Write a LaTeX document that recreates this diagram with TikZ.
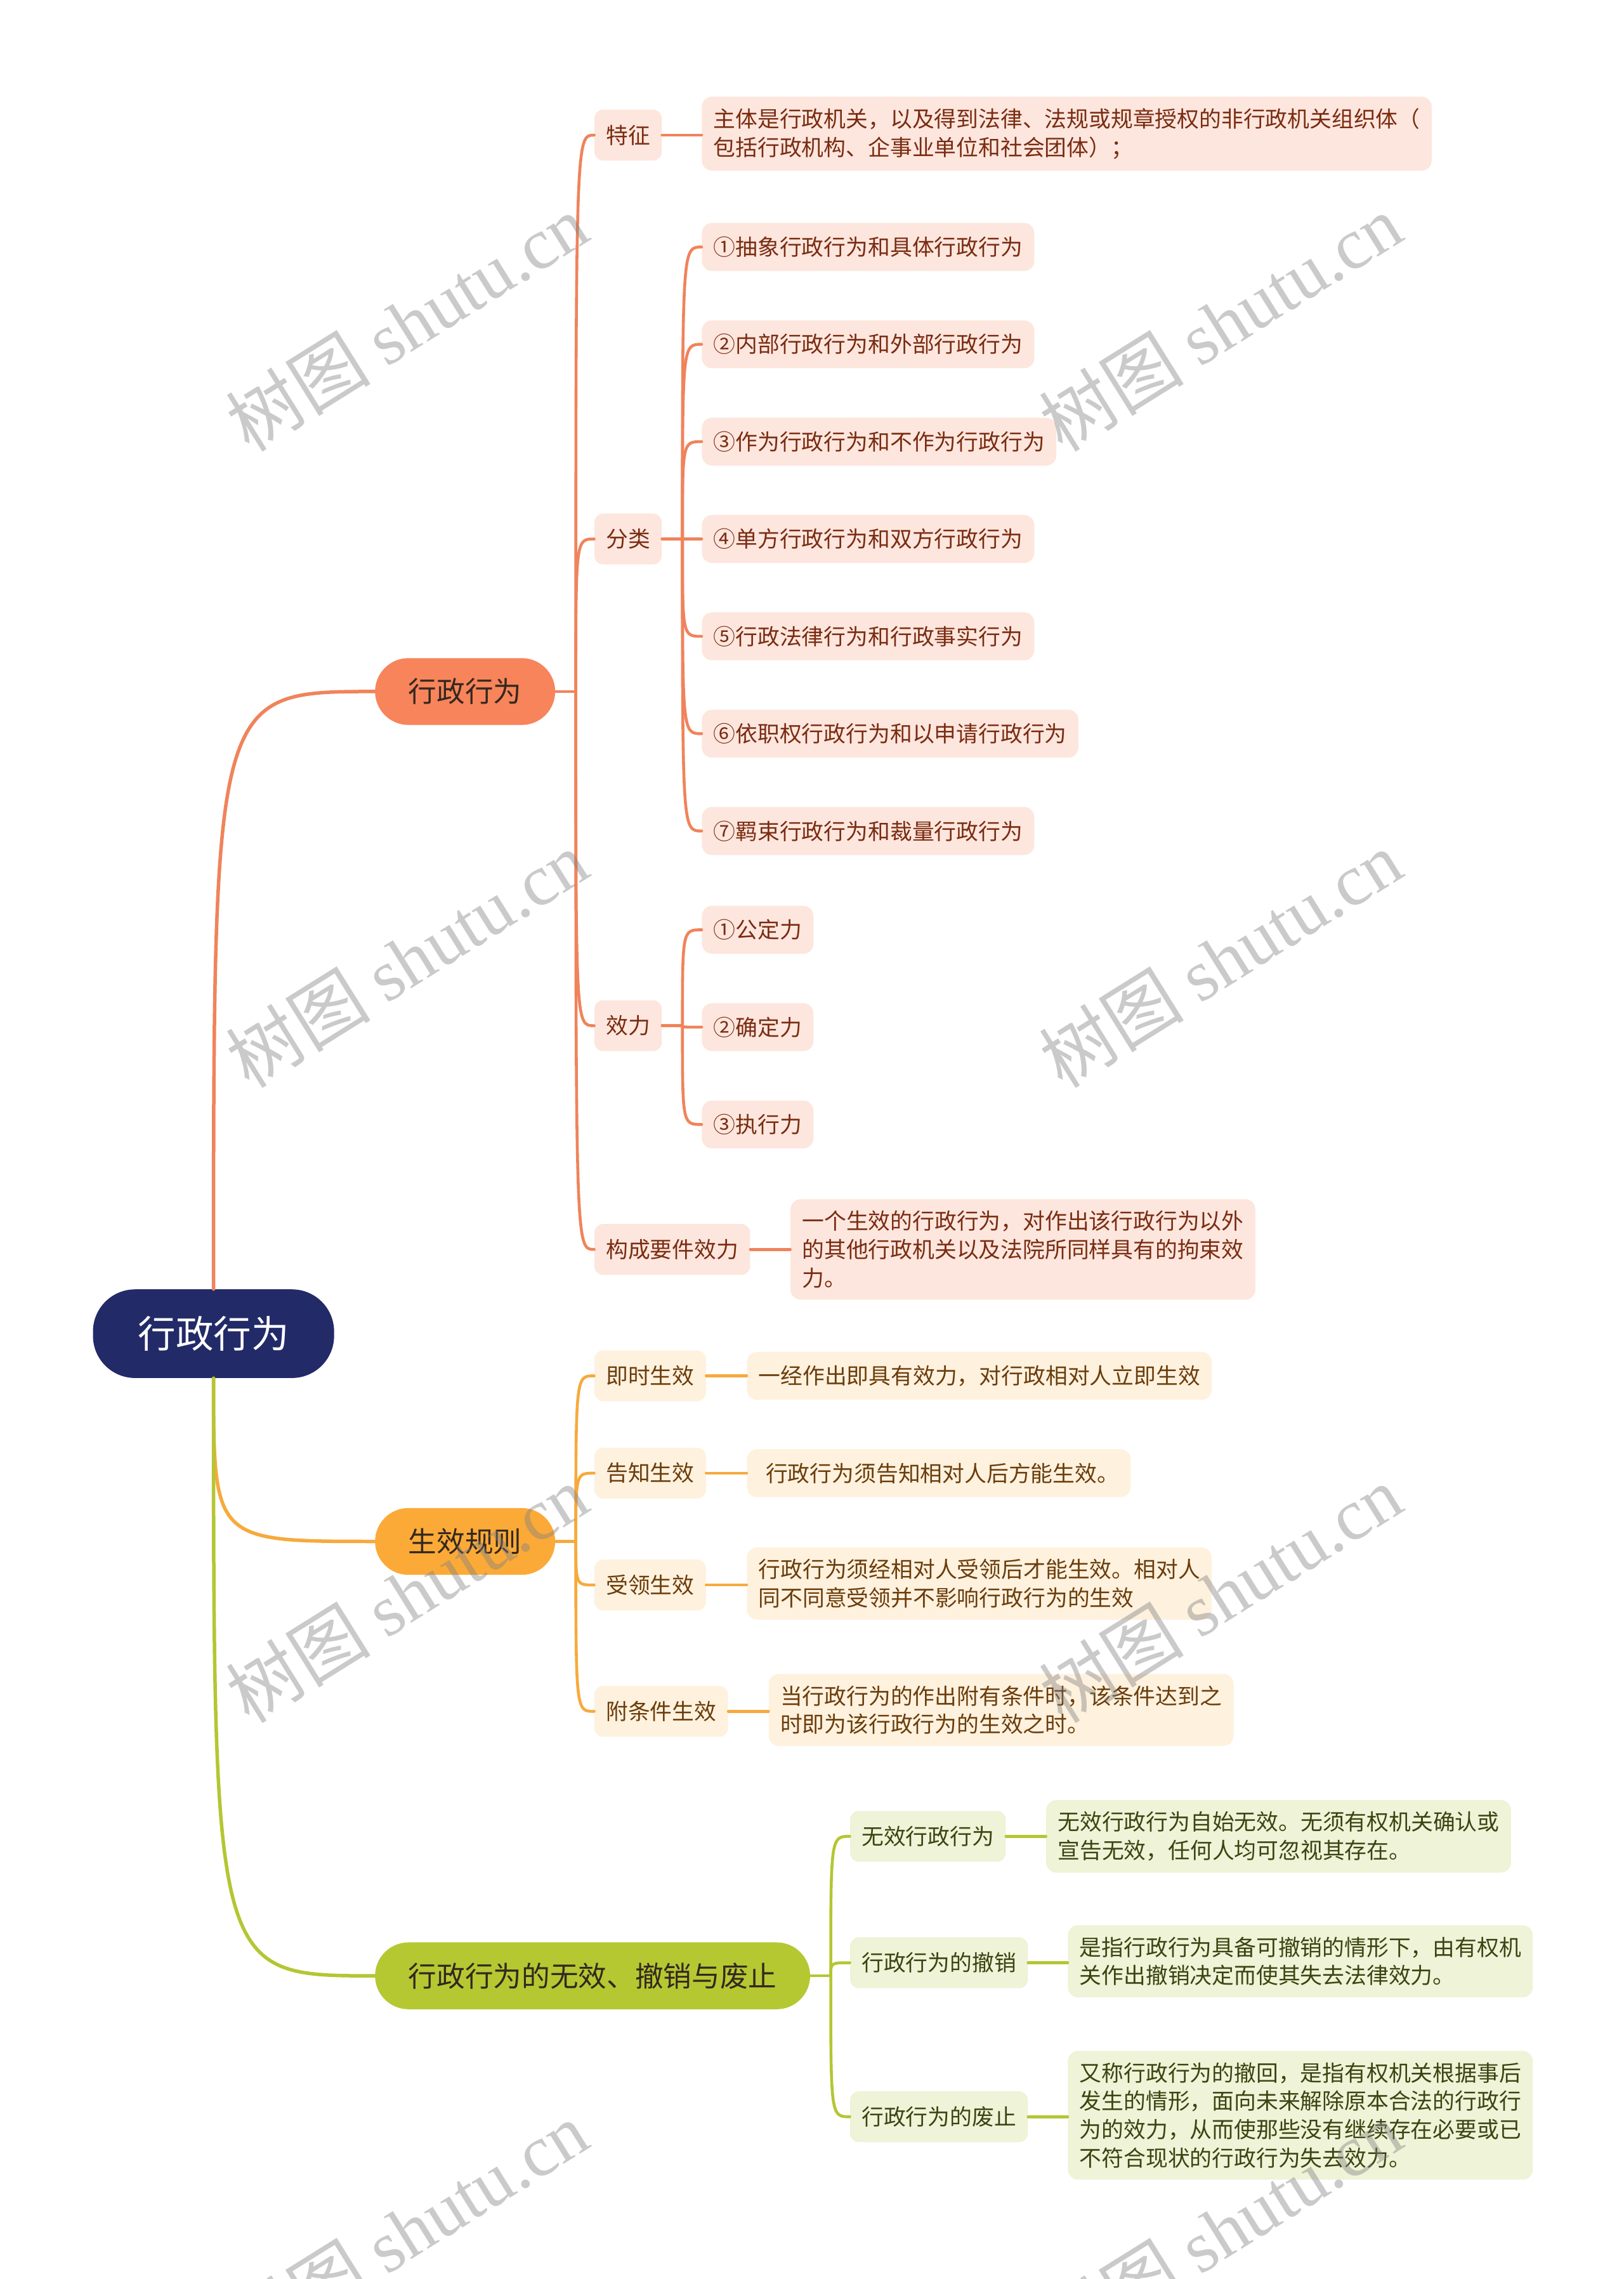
\documentclass[tikz,border=0pt]{standalone}
\usepackage{fontspec}
\setmainfont{Noto Sans CJK SC}
\newfontfamily\wmfont{Liberation Serif}
\definecolor{navy}{HTML}{222A68}
\definecolor{coral}{HTML}{F7845A}
\definecolor{amber}{HTML}{FBAA38}
\definecolor{lime}{HTML}{B5C832}
\definecolor{coralL}{HTML}{FDE6DD}
\definecolor{amberL}{HTML}{FEF1DE}
\definecolor{limeL}{HTML}{EFF3D7}
\definecolor{coralT}{HTML}{7A2C12}
\definecolor{amberT}{HTML}{6B3D0B}
\definecolor{limeT}{HTML}{3B4412}
\definecolor{darkT}{HTML}{33281E}
\definecolor{coralLn}{HTML}{F0835B}
\definecolor{amberLn}{HTML}{F6AA3C}
\definecolor{limeLn}{HTML}{B4C633}
\begin{document}
\begin{tikzpicture}[x=1pt,y=-1pt,
  rootbox/.style={fill=navy,text=white,rounded corners=29pt,minimum width=166pt,minimum height=61pt,inner sep=0pt,font=\fontsize{26}{30}\selectfont},
  brbox/.style={rounded corners=23pt,minimum height=46pt,inner xsep=23pt,inner ysep=0pt,text=darkT,font=\fontsize{19.5}{24}\selectfont},
  chbox/.style={rounded corners=6pt,minimum height=35pt,inner xsep=8pt,inner ysep=0pt,font=\fontsize{15.2}{19.5}\selectfont},
  lfbox/.style={rounded corners=7pt,minimum height=33pt,inner xsep=8pt,inner ysep=8pt,align=left,font=\fontsize{15.2}{19.5}\selectfont},
  cA/.style={fill=coralL,text=coralT},
  cB/.style={fill=amberL,text=amberT},
  cC/.style={fill=limeL,text=limeT},
  mainln/.style={line width=2.4pt,line cap=round},
  subln/.style={line width=2pt,line cap=round},
  wm/.style={text=gray,opacity=0.42,rotate=32,font=\fontsize{50}{54}\selectfont}
]
\useasboundingbox (0,0) rectangle (1118,1568.7);

% root and branches
\node[rootbox] (root) at (147,918) {行政行为};
\node[brbox,fill=coral,anchor=west] (b1) at (258,476) {行政行为};
\node[brbox,fill=amber,anchor=west] (b2) at (258,1061) {生效规则};
\node[brbox,fill=lime,anchor=west] (b3) at (258,1360) {行政行为的无效、撤销与废止};

% branch 1 children
\node[chbox,cA,anchor=west] (tz) at (409,93) {特征};
\node[chbox,cA,anchor=west] (fl) at (409,371) {分类};
\node[chbox,cA,anchor=west] (xl) at (409,706) {效力};
\node[chbox,cA,anchor=west] (gc) at (409,860) {构成要件效力};

\node[lfbox,cA,anchor=west] (tzL) at (483,92) {主体是行政机关，以及得到法律、法规或规章授权的非行政机关组织体（\\包括行政机构、企事业单位和社会团体）；};
\node[lfbox,cA,anchor=west] (f1) at (483,170) {①抽象行政行为和具体行政行为};
\node[lfbox,cA,anchor=west] (f2) at (483,237) {②内部行政行为和外部行政行为};
\node[lfbox,cA,anchor=west] (f3) at (483,304) {③作为行政行为和不作为行政行为};
\node[lfbox,cA,anchor=west] (f4) at (483,371) {④单方行政行为和双方行政行为};
\node[lfbox,cA,anchor=west] (f5) at (483,438) {⑤行政法律行为和行政事实行为};
\node[lfbox,cA,anchor=west] (f6) at (483,505) {⑥依职权行政行为和以申请行政行为};
\node[lfbox,cA,anchor=west] (f7) at (483,572) {⑦羁束行政行为和裁量行政行为};
\node[lfbox,cA,anchor=west] (x1) at (483,640) {①公定力};
\node[lfbox,cA,anchor=west] (x2) at (483,707) {②确定力};
\node[lfbox,cA,anchor=west] (x3) at (483,774) {③执行力};
\node[lfbox,cA,anchor=west] (gcL) at (544,860) {一个生效的行政行为，对作出该行政行为以外\\的其他行政机关以及法院所同样具有的拘束效\\力。};

% branch 2 children
\node[chbox,cB,anchor=west] (js) at (409,947) {即时生效};
\node[chbox,cB,anchor=west] (gz) at (409,1014) {告知生效};
\node[chbox,cB,anchor=west] (sl) at (409,1091) {受领生效};
\node[chbox,cB,anchor=west] (ft) at (409,1178) {附条件生效};

\node[lfbox,cB,anchor=west] (jsL) at (514,947) {一经作出即具有效力，对行政相对人立即生效};
\node[lfbox,cB,anchor=west] (gzL) at (514,1014) {\hspace*{5pt}行政行为须告知相对人后方能生效。};
\node[lfbox,cB,anchor=west] (slL) at (514,1090) {行政行为须经相对人受领后才能生效。相对人\\同不同意受领并不影响行政行为的生效};
\node[lfbox,cB,anchor=west] (ftL) at (529,1177) {当行政行为的作出附有条件时，该条件达到之\\时即为该行政行为的生效之时。};

% branch 3 children
\node[chbox,cC,anchor=west] (wx) at (585,1264) {无效行政行为};
\node[chbox,cC,anchor=west] (cx) at (585,1351) {行政行为的撤销};
\node[chbox,cC,anchor=west] (fz) at (585,1457) {行政行为的废止};

\node[lfbox,cC,anchor=west] (wxL) at (720,1264) {无效行政行为自始无效。无须有权机关确认或\\宣告无效，任何人均可忽视其存在。};
\node[lfbox,cC,anchor=west] (cxL) at (735,1350) {是指行政行为具备可撤销的情形下，由有权机\\关作出撤销决定而使其失去法律效力。};
\node[lfbox,cC,anchor=west] (fzL) at (735,1456) {又称行政行为的撤回，是指有权机关根据事后\\发生的情形，面向未来解除原本合法的行政行\\为的效力，从而使那些没有继续存在必要或已\\不符合现状的行政行为失去效力。};

% root connectors
\draw[mainln,coralLn] (root.north) .. controls (root.north |- b1.west) .. (b1.west);
\draw[mainln,amberLn] (root.south) .. controls (root.south |- b2.west) .. (b2.west);
\draw[mainln,limeLn] (root.south) .. controls (root.south |- b3.west) .. (b3.west);

% branch 1 connectors
\draw[subln,coralLn] (b1.east) -- ++(14,0) coordinate (j1);
\foreach \c in {tz,fl,xl,gc}{
  \draw[subln,coralLn] (j1) .. controls (j1 |- \c.west) .. (\c.west);
}
\draw[subln,coralLn] (fl.east) -- ++(14,0) coordinate (jf);
\foreach \c in {f1,f2,f3,f4,f5,f6,f7}{
  \draw[subln,coralLn] (jf) .. controls (jf |- \c.west) .. (\c.west);
}
\draw[subln,coralLn] (xl.east) -- ++(14,0) coordinate (jx);
\foreach \c in {x1,x2,x3}{
  \draw[subln,coralLn] (jx) .. controls (jx |- \c.west) .. (\c.west);
}
\draw[subln,coralLn] (tz.east) -- (tzL.west |- tz.east);
\draw[subln,coralLn] (gc.east) -- (gcL.west |- gc.east);

% branch 2 connectors
\draw[subln,amberLn] (b2.east) -- ++(14,0) coordinate (j2);
\foreach \c in {js,gz,sl,ft}{
  \draw[subln,amberLn] (j2) .. controls (j2 |- \c.west) .. (\c.west);
}
\draw[subln,amberLn] (js.east) -- (jsL.west |- js.east);
\draw[subln,amberLn] (gz.east) -- (gzL.west |- gz.east);
\draw[subln,amberLn] (sl.east) -- (slL.west |- sl.east);
\draw[subln,amberLn] (ft.east) -- (ftL.west |- ft.east);

% branch 3 connectors
\draw[subln,limeLn] (b3.east) -- ++(14,0) coordinate (j3);
\foreach \c in {wx,cx,fz}{
  \draw[subln,limeLn] (j3) .. controls (j3 |- \c.west) .. (\c.west);
}
\draw[subln,limeLn] (wx.east) -- (wxL.west |- wx.east);
\draw[subln,limeLn] (cx.east) -- (cxL.west |- cx.east);
\draw[subln,limeLn] (fz.east) -- (fzL.west |- fz.east);

% watermarks
\foreach \wx in {280,840}{
  \foreach \wy in {222,660,1097,1535}{
    \node[wm] at (\wx,\wy) {树图 {\wmfont shutu.cn}};
  }
}
\end{tikzpicture}
\end{document}
